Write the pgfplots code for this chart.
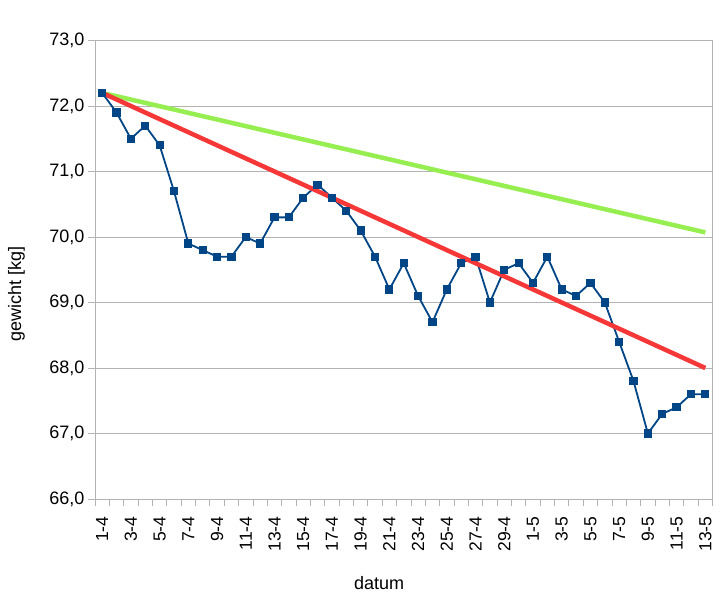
\documentclass[border=0pt]{standalone}
\usepackage{pgfplots}
\pgfplotsset{compat=1.18}
\usepackage{fontspec}
\setmainfont{Liberation Sans}
\definecolor{serblue}{RGB}{0,69,134}
\definecolor{trgreen}{RGB}{150,238,80}
\definecolor{trred}{RGB}{245,55,55}
\definecolor{gridgray}{RGB}{179,179,179}
\begin{document}
\begin{tikzpicture}[x=1pt,y=1pt]
\path[use as bounding box] (-95,-99) rectangle (631,499);
\begin{axis}[
  at={(0,0)}, anchor=south west,
  scale only axis, width=617.5pt, height=458.5pt,
  xmin=-0.5, xmax=42.5, ymin=66, ymax=73,
  axis line style={gridgray},
  ytick={66,67,...,73},
  ymajorgrids, major grid style={gridgray, line width=0.8pt},
  xtick={0,2,...,42},
  xticklabels={1-4,3-4,5-4,7-4,9-4,11-4,13-4,15-4,17-4,19-4,21-4,23-4,25-4,27-4,29-4,1-5,3-5,5-5,7-5,9-5,11-5,13-5},
  minor xtick={-0.5,0.5,...,42.5},
  tick align=outside,
  major tick length=7pt, minor tick length=7pt,
  xtick style={draw=none},
  minor x tick style={draw=gridgray, line width=0.8pt},
  ytick style={draw=gridgray, line width=0.8pt},
  x tick label style={rotate=90, anchor=east, font=\fontsize{17.5}{18}\selectfont},
  y tick label style={font=\fontsize{18}{18}\selectfont},
  xtick pos=bottom, ytick pos=left,
  yticklabel style={/pgf/number format/.cd, fixed, fixed zerofill, precision=1, use comma, assume math mode=true},
  xticklabel shift=7pt,
  xlabel={datum}, ylabel={gewicht [kg]},
  label style={font=\fontsize{18}{20}\selectfont},
  xlabel style={at={(axis description cs:0.46,-0.183)}, anchor=center},
  ylabel style={at={(axis description cs:-0.127,0.447)}, anchor=center},
  clip=false,
]
\addplot[serblue, line width=1.8pt, mark=square*, mark size=3.2pt, mark options={solid}] coordinates {
(0,72.2)(1,71.9)(2,71.5)(3,71.7)(4,71.4)(5,70.7)(6,69.9)(7,69.8)(8,69.7)(9,69.7)
(10,70.0)(11,69.9)(12,70.3)(13,70.3)(14,70.6)(15,70.8)(16,70.6)(17,70.4)(18,70.1)(19,69.7)
(20,69.2)(21,69.6)(22,69.1)(23,68.7)(24,69.2)(25,69.6)(26,69.7)(27,69.0)(28,69.5)(29,69.6)
(30,69.3)(31,69.7)(32,69.2)(33,69.1)(34,69.3)(35,69.0)(36,68.4)(37,67.8)(38,67.0)(39,67.3)
(40,67.4)(41,67.6)(42,67.6)};
\addplot[trgreen, line width=4.5pt] coordinates {(0,72.2)(42,70.07)};
\addplot[trred, line width=4.5pt] coordinates {(0,72.2)(42,68.0)};
\end{axis}
\end{tikzpicture}
\end{document}
